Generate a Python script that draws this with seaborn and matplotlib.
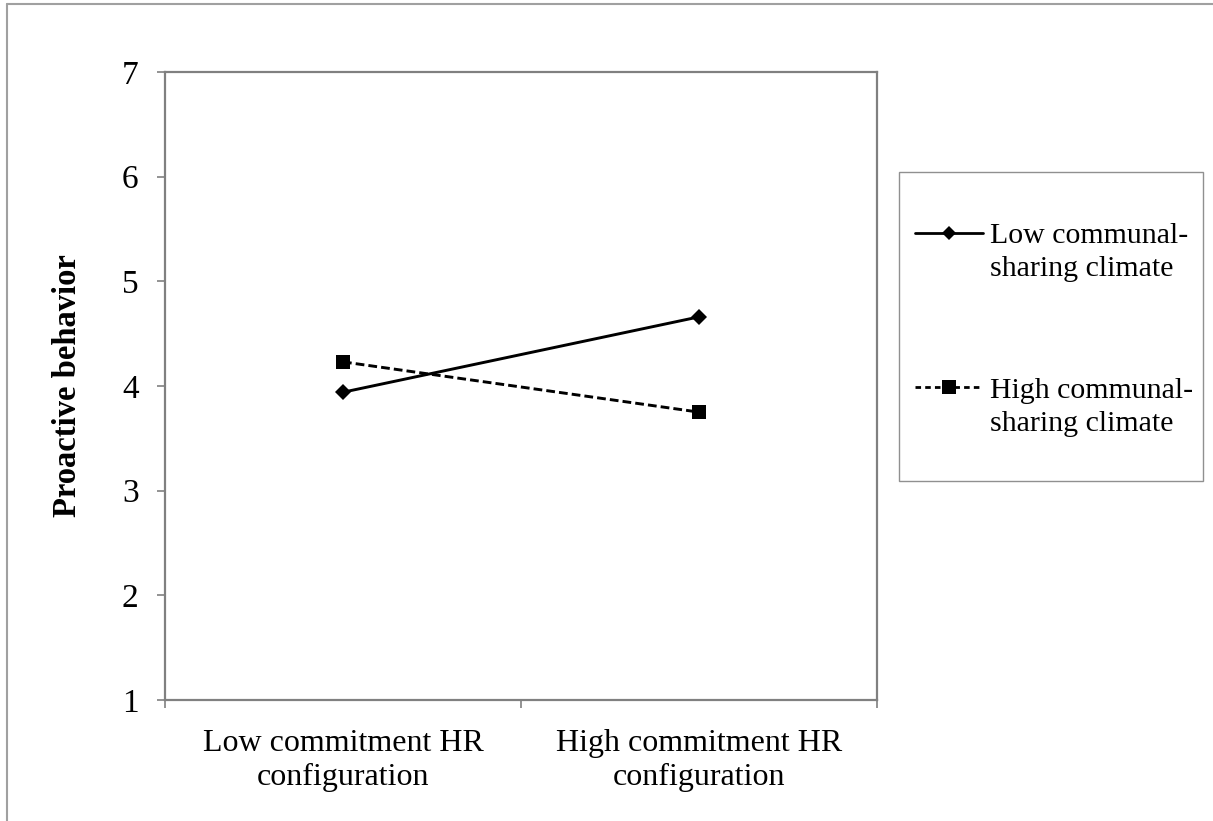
import pandas as pd
import matplotlib.pyplot as plt
import seaborn as sns
from matplotlib.lines import Line2D
from matplotlib.patches import Rectangle
from matplotlib.legend_handler import HandlerLine2D

# values
hr_config = ['Low commitment HR\nconfiguration', 'High commitment HR\nconfiguration']
low_sharing = [3.94, 4.66]
high_sharing = [4.23, 3.75]
series_names = ['Low communal-\nsharing climate', 'High communal-\nsharing climate']
y_ticks = [1, 2, 3, 4, 5, 6, 7]

df = pd.DataFrame({
    'HR configuration': hr_config * 2,
    'Proactive behavior': low_sharing + high_sharing,
    'Climate': [series_names[0]] * 2 + [series_names[1]] * 2,
})


class FirstLineHandler(HandlerLine2D):
    # put the legend key level with the first text line
    def create_artists(self, legend, orig_handle, xdescent, ydescent,
                       width, height, fontsize, trans):
        artists = super().create_artists(legend, orig_handle, xdescent, ydescent,
                                         width, height, fontsize, trans)
        for a in artists:
            a.set_ydata([y + 0.66 * fontsize for y in a.get_ydata()])
        return artists


sns.set_style('white')
plt.rcParams['font.family'] = ['Liberation Serif', 'DejaVu Serif']
plt.rcParams['text.color'] = 'black'
plt.rcParams['axes.labelcolor'] = 'black'

fig = plt.figure(figsize=(12.13, 8.21), dpi=100)
ax = fig.add_axes([0.136, 0.1474, 0.587, 0.765])

dash = (3.0, 1.4)
sns.lineplot(data=df, x='HR configuration', y='Proactive behavior',
             hue='Climate', style='Climate',
             palette=['black', 'black'],
             markers={series_names[0]: 'D', series_names[1]: 's'},
             dashes={series_names[0]: '', series_names[1]: dash},
             markersize=9, linewidth=2.1, markeredgewidth=0,
             sort=False, ax=ax, legend=False)
for line, ms in zip(ax.lines, [8, 10]):
    line.set_markersize(ms)

ax.set_xlim(-0.5, 1.5)
ax.set_ylim(1, 7)
ax.set_yticks(y_ticks)
ax.set_yticklabels([str(t) for t in y_ticks])
ax.set_xticks([0, 1])
ax.set_xticklabels(hr_config)
ax.set_xticks([-0.5, 0.5, 1.5], minor=True)
ax.tick_params(axis='x', which='major', length=0, pad=21, labelsize=23,
               labelcolor='black')
ax.tick_params(axis='x', which='minor', length=6, width=1.2, color='#808080',
               direction='out', bottom=True)
ax.tick_params(axis='y', length=6, width=1.2, color='#808080', direction='out',
               left=True, pad=13, labelsize=24, labelcolor='black')
ax.set_xlabel('')
ax.set_ylabel('Proactive behavior', fontsize=23.5, fontweight='bold', labelpad=28)

for side in ['left', 'bottom', 'top', 'right']:
    ax.spines[side].set_visible(True)
    ax.spines[side].set_color('#808080')
    ax.spines[side].set_linewidth(1.6)

handles = [
    Line2D([], [], color='black', linewidth=2.0, marker='D', markersize=7.5,
           markeredgewidth=0),
    Line2D([], [], color='black', linewidth=2.0, marker='s', markersize=10,
           markeredgewidth=0, dashes=(2.0, 1.5)),
]
leg = fig.legend(handles, series_names, loc='upper left',
                 bbox_to_anchor=(0.754, 0.728), fontsize=21.5,
                 frameon=False, handlelength=2.28, handletextpad=0.23,
                 labelspacing=3.2, borderpad=0, borderaxespad=0,
                 handler_map={Line2D: FirstLineHandler()})
for t in leg.get_texts():
    t.set_linespacing(1.35)

# legend frame drawn separately (the original has more room above and below)
fig.add_artist(Rectangle((0.7411, 0.4141), 0.2506, 0.3764, fill=False,
                         edgecolor='#909090', linewidth=1.0,
                         transform=fig.transFigure))

# outer frame of the original figure (top and left edges visible)
fig.add_artist(Line2D([0.0058, 1.0], [0.9951, 0.9951], color='#a0a0a0',
                      linewidth=1.5, transform=fig.transFigure))
fig.add_artist(Line2D([0.0058, 0.0058], [0.0, 0.9951], color='#a0a0a0',
                      linewidth=1.5, transform=fig.transFigure))

fig.savefig('out.png', dpi=100, facecolor='white')
